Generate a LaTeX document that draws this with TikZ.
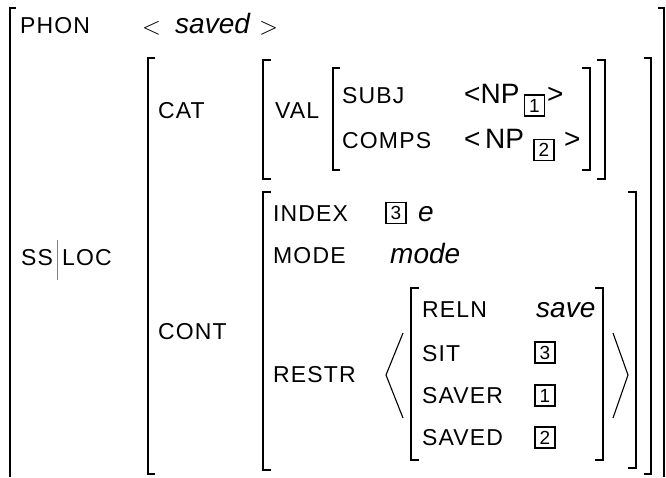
\documentclass[tikz,border=0pt]{standalone}
\usepackage{fontspec}
\setmainfont{Liberation Sans}
\newfontfamily\featfont[LetterSpace=5]{Liberation Sans}
\usepackage{tikz}

\tikzset{
  feat/.style={anchor=base west, inner sep=0pt, font=\featfont\fontsize{23}{23}\selectfont},
  atom/.style={anchor=base west, inner sep=0pt, font=\itshape\fontsize{28}{28}\selectfont},
  npval/.style={anchor=base west, inner sep=0pt, font=\fontsize{28}{28}\selectfont},
  angl/.style={anchor=base west, inner sep=0pt, font=\fontsize{33}{33}\selectfont},
  tagbox/.style={draw, line width=1.7pt, inner sep=0pt, minimum width=20pt, minimum height=21pt, font=\fontsize{19}{19}\selectfont},
  brk/.style={line width=1.5pt}
}

\begin{document}
\begin{tikzpicture}[x=1pt,y=1pt,yscale=-1,xscale=1]
        \useasboundingbox (0,0) rectangle (666,477);
        % outer matrix
        \draw [brk] (16,8) -- (10,8) -- (10,477) ;
        \draw [brk] (658,8) -- (664,8) -- (664,477) ;
        % SS|LOC value
        \draw [brk] (155,58) -- (148,58) -- (148,474) -- (155,474) ;
        \draw [brk] (644,58) -- (651,58) -- (651,474) -- (644,474) ;
        % CAT value
        \draw [brk] (271,60) -- (263,60) -- (263,179) -- (271,179) ;
        \draw [brk] (597,60) -- (605,60) -- (605,179) -- (597,179) ;
        % VAL value
        \draw [brk] (340,68) -- (333,68) -- (333,170) -- (340,170) ;
        \draw [brk] (582,68) -- (590,68) -- (590,170) -- (582,170) ;
        % CONT value
        \draw [brk] (271,192) -- (263,192) -- (263,470) -- (271,470) ;
        \draw [brk] (628,192) -- (636,192) -- (636,468) -- (628,468) ;
        % RESTR list
        \draw [line width=1.1pt] (403,333) -- (386,375) -- (403,418) ;
        \draw [line width=1.1pt] (613,333) -- (628,375) -- (613,418) ;
        \draw [brk] (419,288) -- (411,288) -- (411,460) -- (419,460) ;
        \draw [brk] (595,288) -- (603,288) -- (603,460) -- (595,460) ;

        \draw (20,33) node [feat] (phon) {PHON};
        \draw (142,34) node [angl] (phonl) {$<$};
        \draw (175,33) node [atom] (saved) {saved};
        \draw (259,34) node [angl] (phonr) {$>$};

        \draw (21,265) node [feat] (ss) {SS};
        \draw [gray, line width=0.8pt] (57,240) -- (57,280) ;
        \draw (62,265) node [feat] (loc) {LOC};

        \draw (158,118) node [feat] (cat) {CAT};
        \draw (275,118) node [feat] (val) {VAL};
        \draw (342,103) node [feat] (subj) {SUBJ};
        \draw (342,148) node [feat] (comps) {COMPS};
        \draw (464,103) node [npval] (subjval) {<NP};
        \draw (534.5,105.5) node [tagbox] (tagA) {1};
        \draw (547,103) node [npval] (subjr) {>};
        \draw (464,148) node [npval] (compsval) {<\,NP};
        \draw (544,150) node [tagbox] (tagB) {2};
        \draw (564,148) node [npval] (compsr) {>};

        \draw (158,339) node [feat] (cont) {CONT};
        \draw (273,221) node [feat] (index) {INDEX};
        \draw (396,213) node [tagbox] (tagC) {3};
        \draw (418,221) node [atom] (evar) {e};
        \draw (273,263) node [feat] (mode) {MODE};
        \draw (390,263) node [atom] (modeval) {mode};
        \draw (273,382) node [feat] (restr) {RESTR};

        \draw (422,317) node [feat] (reln) {RELN};
        \draw (536,317) node [atom] (save) {save};
        \draw (422,361) node [feat] (sit) {SIT};
        \draw (545,352.5) node [tagbox] (sittag) {3};
        \draw (422,403) node [feat] (saver) {SAVER};
        \draw (545,395.5) node [tagbox] (savertag) {1};
        \draw (422,445) node [feat] (savedf) {SAVED};
        \draw (545,437.5) node [tagbox] (savedtag) {2};
\end{tikzpicture}
\end{document}
